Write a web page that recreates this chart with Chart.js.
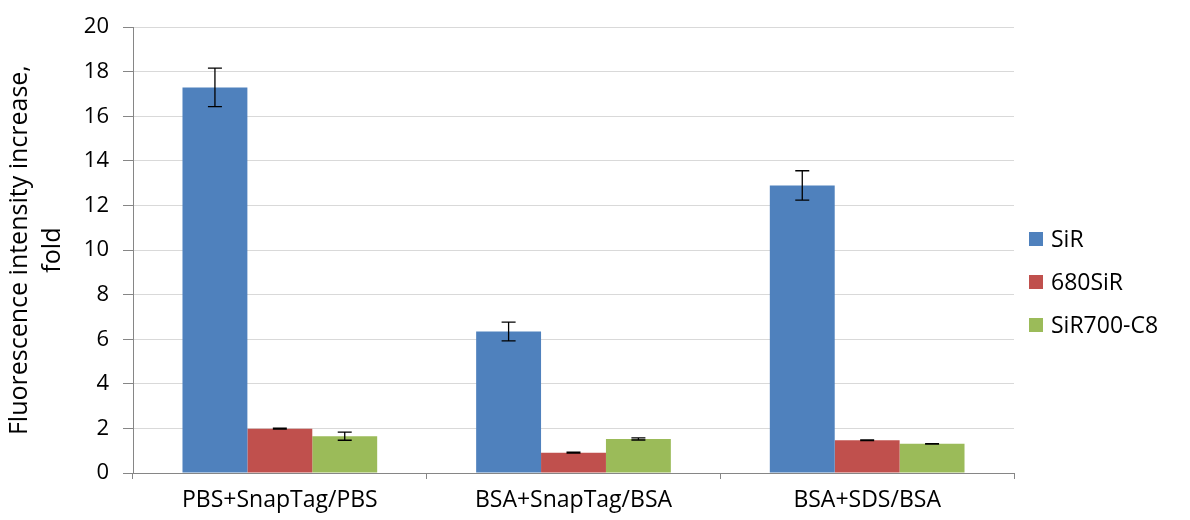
<!DOCTYPE html>
<html>
<head>
<meta charset="utf-8">
<script src="https://cdn.jsdelivr.net/npm/chart.js@4/dist/chart.umd.min.js"></script>
<style>
  html, body { margin: 0; padding: 0; background: #fff; }
  #wrap { width: 1190px; height: 520px; }
</style>
</head>
<body>
<div id="wrap"><canvas id="chart" width="1190" height="520"></canvas></div>
<script>
// chart data
const categories = ["PBS+SnapTag/PBS", "BSA+SnapTag/BSA", "BSA+SDS/BSA"];
const seriesNames = ["SiR", "680SiR", "SiR700-C8"];
const sirValues = [17.3, 6.35, 12.9];
const sirErrors = [0.86, 0.42, 0.66];
const sir680Values = [1.99, 0.91, 1.47];
const sir680Errors = [0.02, 0.02, 0.02];
const sir700Values = [1.65, 1.53, 1.31];
const sir700Errors = [0.18, 0.05, 0.01];
const yTicks = [0, 2, 4, 6, 8, 10, 12, 14, 16, 18, 20];

const colors = ["#4f81bd", "#c0504d", "#9bbb59"];
const FONT = "'Open Sans', 'Liberation Sans', sans-serif";

// error bars drawn on top of the bars
const errorBars = {
  id: "errorBars",
  afterDatasetsDraw(chart) {
    const ctx = chart.ctx;
    const y = chart.scales.y;
    ctx.save();
    ctx.strokeStyle = "#000";
    ctx.lineWidth = 1.3;
    chart.data.datasets.forEach((ds, i) => {
      const meta = chart.getDatasetMeta(i);
      meta.data.forEach((bar, j) => {
        const v = ds.data[j], e = ds.errors[j];
        const top = y.getPixelForValue(v + e);
        const bot = y.getPixelForValue(v - e);
        const x = bar.x;
        ctx.beginPath();
        ctx.moveTo(x, top); ctx.lineTo(x, bot);
        ctx.moveTo(x - 7, top); ctx.lineTo(x + 7, top);
        ctx.moveTo(x - 7, bot); ctx.lineTo(x + 7, bot);
        ctx.stroke();
      });
    });
    ctx.restore();
  },
};

// legend on the right, placed like the original
const sideLegend = {
  id: "sideLegend",
  afterDraw(chart) {
    const ctx = chart.ctx;
    ctx.save();
    ctx.font = "23px " + FONT;
    ctx.textBaseline = "middle";
    chart.data.datasets.forEach((ds, i) => {
      const cy = 239 + i * 43;
      ctx.fillStyle = ds.backgroundColor;
      ctx.fillRect(1029, cy - 7, 14, 14);
      ctx.fillStyle = "#000";
      ctx.fillText(ds.label, 1051, cy + 1);
    });
    ctx.restore();
  },
};

const ctx = document.getElementById("chart").getContext("2d");
new Chart(ctx, {
  type: "bar",
  data: {
    labels: categories,
    datasets: [
      { label: seriesNames[0], data: sirValues, errors: sirErrors, backgroundColor: colors[0] },
      { label: seriesNames[1], data: sir680Values, errors: sir680Errors, backgroundColor: colors[1] },
      { label: seriesNames[2], data: sir700Values, errors: sir700Errors, backgroundColor: colors[2] },
    ],
  },
  options: {
    responsive: false,
    animation: false,
    layout: { padding: { top: 12, right: 176, bottom: 0, left: 4 } },
    datasets: { bar: { categoryPercentage: 0.663, barPercentage: 1.0 } },
    scales: {
      x: {
        grid: { drawOnChartArea: false, drawTicks: true, tickLength: 6, color: "#868686" },
        border: { color: "#868686", width: 1 },
        ticks: { color: "#000", font: { family: FONT, size: 23 }, padding: 8 },
        afterFit: (axis) => { axis.height = 47; },
      },
      y: {
        min: 0,
        max: 20,
        afterBuildTicks: (axis) => { axis.ticks = yTicks.map((v) => ({ value: v })); },
        grid: { color: "#d9d9d9", tickColor: "#868686", tickLength: 10 },
        border: { color: "#868686", width: 1 },
        ticks: { color: "#000", font: { family: FONT, size: 22 }, padding: 14 },
        afterFit: (axis) => { axis.width = 129; },
        title: {
          display: true,
          text: ["Fluorescence intensity increase,", "fold"],
          color: "#000",
          font: { family: FONT, size: 25, lineHeight: 1.3 },
          padding: { top: 0, bottom: 0 },
        },
      },
    },
    plugins: {
      legend: { display: false },
      tooltip: { enabled: false },
    },
  },
  plugins: [errorBars, sideLegend],
});
</script>
</body>
</html>
